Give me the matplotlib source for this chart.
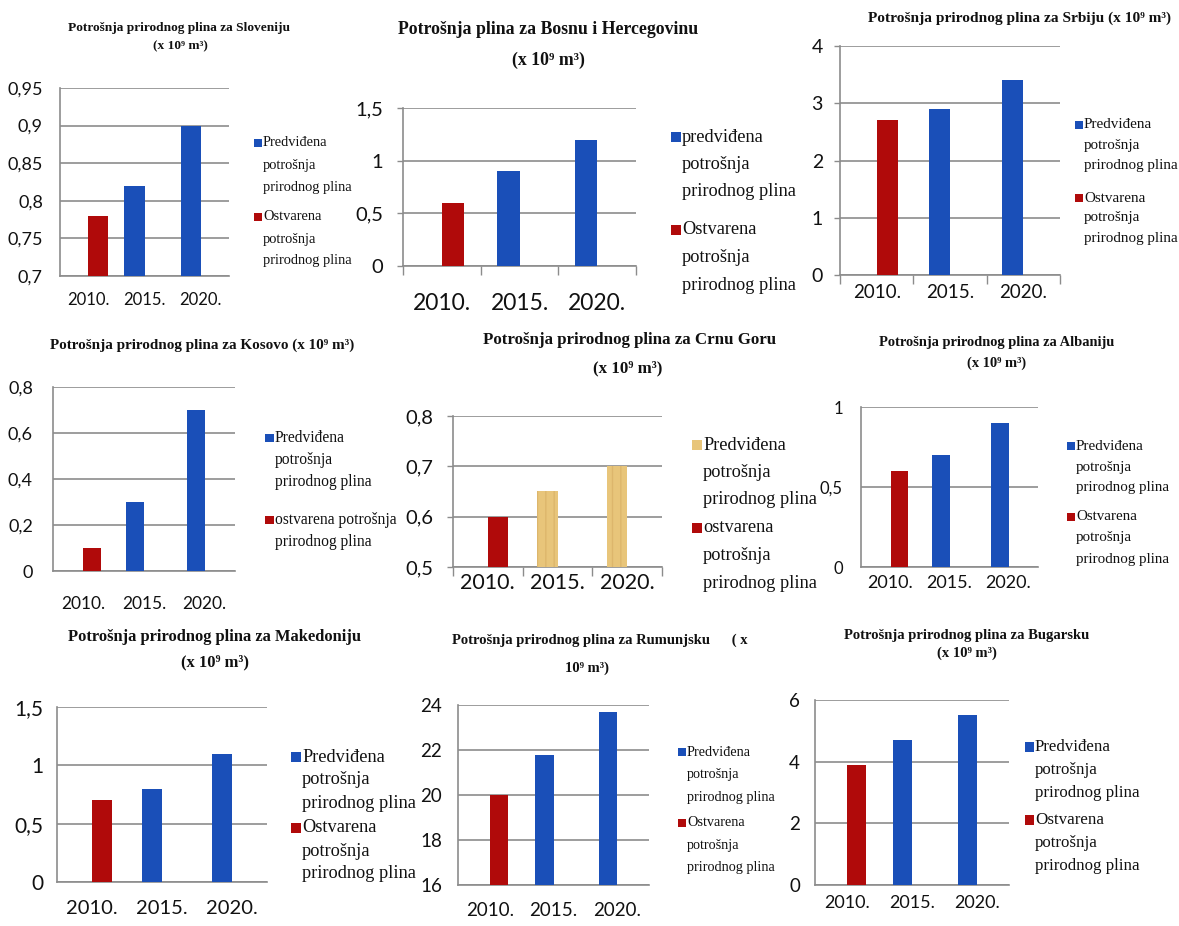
import numpy as np
import matplotlib
matplotlib.use('Agg')
import matplotlib.pyplot as plt
from matplotlib.patches import Rectangle

W, H = 1179, 926
nan = np.nan

YEARS = ['2010.', '2015.', '2020.']

# predicted (blue / tan) and realised (red) consumption, x 10^9 m3
slo_pred = [nan, 0.82, 0.90]
slo_real = [0.78, nan, nan]
bih_pred = [nan, 0.9, 1.2]
bih_real = [0.6, nan, nan]
srb_pred = [nan, 2.9, 3.4]
srb_real = [2.7, nan, nan]
kos_pred = [nan, 0.3, 0.7]
kos_real = [0.1, nan, nan]
mne_pred = [nan, 0.65, 0.70]
mne_real = [0.6, nan, nan]
alb_pred = [nan, 0.7, 0.9]
alb_real = [0.6, nan, nan]
mkd_pred = [nan, 0.8, 1.1]
mkd_real = [0.7, nan, nan]
rou_pred = [nan, 21.8, 23.7]
rou_real = [20.0, nan, nan]
bgr_pred = [nan, 4.7, 5.5]
bgr_real = [3.9, nan, nan]

slo_ticks = [0.7, 0.75, 0.8, 0.85, 0.9, 0.95]
bih_ticks = [0, 0.5, 1, 1.5]
srb_ticks = [0, 1, 2, 3, 4]
kos_ticks = [0, 0.2, 0.4, 0.6, 0.8]
mne_ticks = [0.5, 0.6, 0.7, 0.8]
alb_ticks = [0, 0.5, 1]
mkd_ticks = [0, 0.5, 1, 1.5]
rou_ticks = [16, 18, 20, 22, 24]
bgr_ticks = [0, 2, 4, 6]

PRED = ['Predviđena', 'potrošnja', 'prirodnog plina']
REAL = ['Ostvarena', 'potrošnja', 'prirodnog plina']

BLUE = '#1A4FB8'
RED = '#B00A0A'
TAN = '#E8C57A'
GRID = '#8C8C8C'
INK = '#111111'

SANS = 'Lato'
SERIF = ['Liberation Serif', 'DejaVu Serif']

# box = left, top, right, bottom in pixels
PANELS = [
    dict(pred=slo_pred, real=slo_real, ticks=slo_ticks, box=(60, 88, 229, 276), bw=0.36,
         ysize=13, ypad=17, xsize=12, xy=300, ticks_on=False,
         title=[('Potrošnja prirodnog plina za Sloveniju', 179, 28), ('(x 10⁹ m³)', 180, 46)], tw=222,
         leg=(263, [143, 217], 22, 10.4), labels=[PRED, REAL]),
    dict(pred=bih_pred, real=bih_real, ticks=bih_ticks, box=(403, 108, 636, 266),
         ysize=14.5, ypad=20, xsize=16.5, xy=303, ticks_on=True,
         title=[('Potrošnja plina za Bosnu i Hercegovinu', 548, 30), ('(x 10⁹ m³)', 548, 60)], tw=300,
         leg=(682, [137, 230], 27.5, 13.2), labels=[['predviđena'] + PRED[1:], REAL]),
    dict(pred=srb_pred, real=srb_real, ticks=srb_ticks, box=(840, 46, 1060, 275),
         ysize=14, ypad=17, xsize=13.5, xy=293, ticks_on=True,
         title=[('Potrošnja prirodnog plina za Srbiju (x 10⁹ m³)', 1019, 18)], tw=302,
         leg=(1084, [125, 198], 20, 10.9), labels=[PRED, REAL]),
    dict(pred=kos_pred, real=kos_real, ticks=kos_ticks, box=(53, 387, 235, 571),
         ysize=13, ypad=20, xsize=12.5, xy=604, ticks_on=False,
         title=[('Potrošnja prirodnog plina za Kosovo (x 10⁹ m³)', 202, 345)], tw=305,
         leg=(275, [438, 520], 22, 11.2), labels=[PRED, ['ostvarena potrošnja', 'prirodnog plina']]),
    dict(pred=mne_pred, real=mne_real, ticks=mne_ticks, box=(453, 416, 662, 567), pc=TAN,
         ysize=14.5, ypad=20, xsize=15.5, xy=583, ticks_on=True,
         title=[('Potrošnja prirodnog plina za Crnu Goru', 630, 340), ('(x 10⁹ m³)', 628, 368)], tw=295,
         leg=(703, [445, 528], 27.5, 13.2), labels=[PRED, ['ostvarena'] + REAL[1:]]),
    dict(pred=alb_pred, real=alb_real, ticks=alb_ticks, box=(861, 407, 1038, 567),
         ysize=12, ypad=18, xsize=13, xy=584, ticks_on=False,
         title=[('Potrošnja prirodnog plina za Albaniju', 997, 342), ('(x 10⁹ m³)', 997, 363)], tw=236,
         leg=(1076, [446, 517], 21, 10.8), labels=[PRED, REAL]),
    dict(pred=mkd_pred, real=mkd_real, ticks=mkd_ticks, box=(57, 707, 267, 882),
         ysize=15, ypad=14, xsize=14.5, xy=909, ticks_on=False,
         title=[('Potrošnja prirodnog plina za Makedoniju', 215, 637), ('(x 10⁹ m³)', 215, 662)], tw=294,
         leg=(302, [757, 828], 23, 13.2), labels=[PRED, REAL]),
    dict(pred=rou_pred, real=rou_real, ticks=rou_ticks, box=(458, 705, 649, 885),
         ysize=13.5, ypad=16, xsize=13.5, xy=911, ticks_on=False,
         title=[('Potrošnja prirodnog plina za Rumunjsku      ( x', 600, 640), ('10⁹ m³)', 587, 668)], tw=295,
         leg=(687, [752, 823], 22.5, 10.3), labels=[PRED, REAL]),
    dict(pred=bgr_pred, real=bgr_real, ticks=bgr_ticks, box=(815, 700, 1009, 885),
         ysize=13.5, ypad=15, xsize=13, xy=903, ticks_on=False,
         title=[('Potrošnja prirodnog plina za Bugarsku', 967, 635), ('(x 10⁹ m³)', 967, 653)], tw=245,
         leg=(1035, [747, 820], 23, 12.2), labels=[PRED, REAL]),
]


def fmt(v):
    return f'{v:g}'.replace('.', ',')


fig = plt.figure(figsize=(W / 100, H / 100), dpi=100)
fig.patch.set_facecolor('white')
renderer = fig.canvas.get_renderer()
PT = 72 / 100  # points per pixel

for p in PANELS:
    l, t, r, b = p['box']
    ax = fig.add_axes([l / W, 1 - b / H, (r - l) / W, (b - t) / H])
    x = np.arange(len(YEARS))
    bw = p.get('bw', 0.29)
    pc = p.get('pc', BLUE)
    if pc == TAN:
        ax.bar(x - bw / 2, p['pred'], bw, color=pc, edgecolor='#DDB66C', linewidth=0, hatch='||', zorder=3)
    else:
        ax.bar(x - bw / 2, p['pred'], bw, color=pc, linewidth=0, zorder=3)
    ax.bar(x + bw / 2, p['real'], bw, color=RED, linewidth=0, zorder=3)

    ax.set_xlim(-0.5, len(YEARS) - 0.5)
    ax.set_ylim(p['ticks'][0], p['ticks'][-1])
    ax.set_yticks(p['ticks'], [fmt(v) for v in p['ticks']])
    ax.set_xticks(x, YEARS)
    ax.yaxis.grid(True, color=GRID, linewidth=1.2)
    ax.set_axisbelow(True)
    for s in ['top', 'right']:
        ax.spines[s].set_visible(False)
    for s in ['left', 'bottom']:
        ax.spines[s].set_color(GRID)
        ax.spines[s].set_linewidth(1.2)

    tick_len = 6 if p['ticks_on'] else 0
    ax.tick_params(axis='y', length=tick_len * PT, width=1, color=GRID,
                   pad=(p['ypad'] - tick_len) * PT, labelsize=p['ysize'], labelcolor=INK)
    xpad = (p['xy'] - b - 0.36 * p['xsize'] / PT - 2) * PT
    ax.tick_params(axis='x', length=0, pad=xpad, labelsize=p['xsize'], labelcolor=INK)
    if p['ticks_on']:
        ax.set_xticks(np.arange(-0.5, len(YEARS)), minor=True)
        ax.tick_params(axis='x', which='minor', length=9 * PT, width=1, color=GRID)
    for lab in ax.get_xticklabels() + ax.get_yticklabels():
        lab.set_fontfamily(SANS)

    # titles, scaled to the width they take in the picture
    size = 11
    for i, (txt, cx, cy) in enumerate(p['title']):
        tt = fig.text(cx / W, 1 - cy / H, txt, ha='center', va='center', fontsize=size,
                      fontweight='bold', family=SERIF, color=INK)
        if i == 0:
            wpx = tt.get_window_extent(renderer).width
            size = size * p['tw'] / wpx
            tt.set_fontsize(size)

    # legend drawn by hand so the square sits on the first line
    tx, ys, dy, fs = p['leg']
    sq = 0.55 * fs / PT
    colors = [pc, RED]
    for y0, lines, c in zip(ys, p['labels'], colors):
        fig.patches.append(Rectangle(((tx - sq - 1) / W, 1 - (y0 + sq / 2) / H), sq / W, sq / H,
                                     transform=fig.transFigure, facecolor=c, edgecolor='none'))
        for k, line in enumerate(lines):
            fig.text(tx / W, 1 - (y0 + k * dy) / H, line, ha='left', va='center',
                     fontsize=fs, family=SERIF, color=INK)

fig.savefig('out.png', dpi=100, facecolor='white')
